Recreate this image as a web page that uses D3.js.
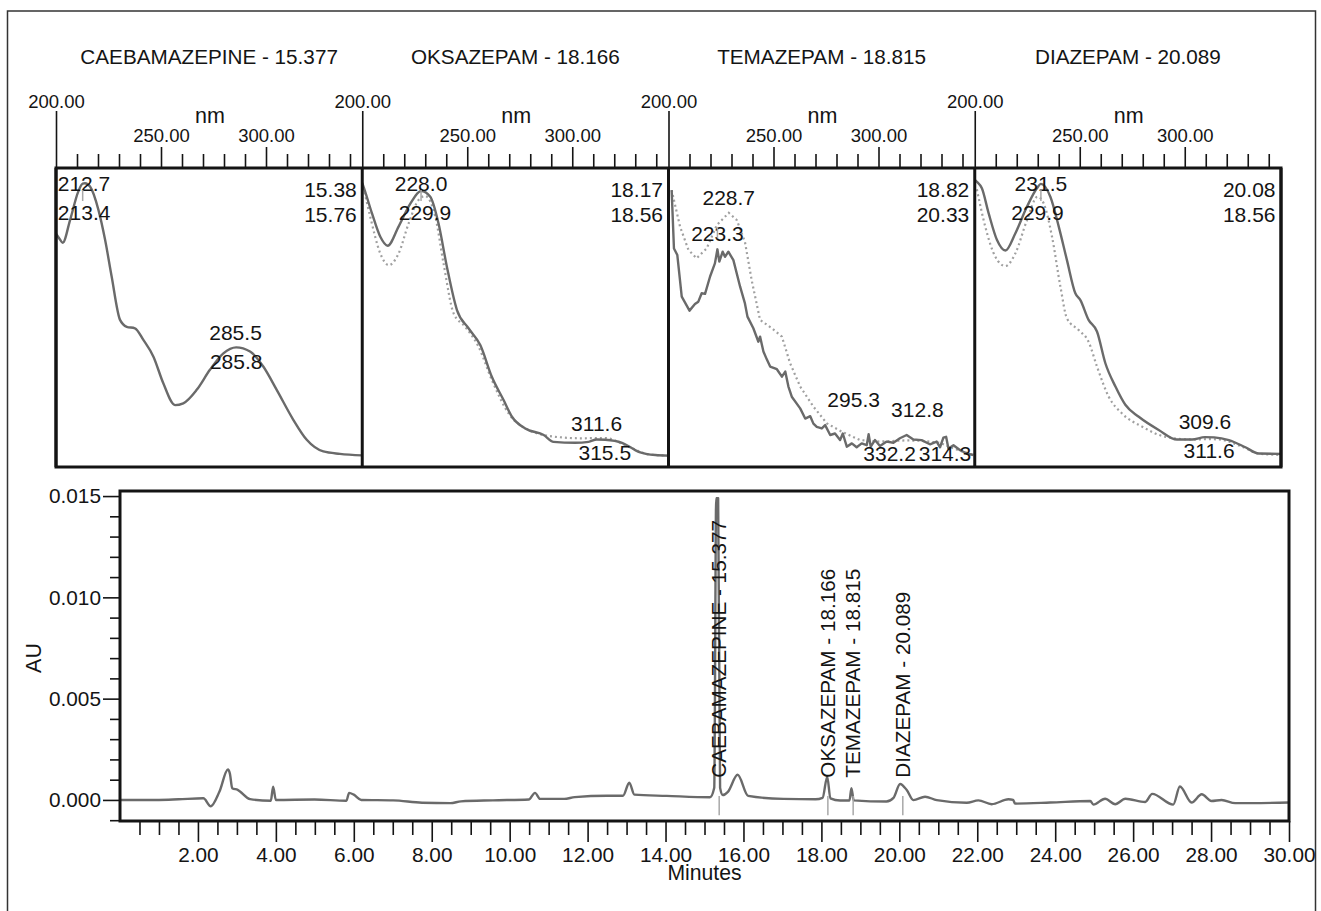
<!DOCTYPE html>
<html>
<head>
<meta charset="utf-8">
<script src="https://cdn.jsdelivr.net/npm/d3@7"></script>
<style>
  html, body { margin: 0; padding: 0; background: #fff; }
  svg { display: block; font-family: Arial, 'Liberation Sans', sans-serif; }
</style>
</head>
<body>
<div id="chart"></div>
<script>
// peaks (title + chromatogram labels)
const compounds = ['CAEBAMAZEPINE', 'OKSAZEPAM', 'TEMAZEPAM', 'DIAZEPAM'];
const retTimes = [15.377, 18.166, 18.815, 20.089];

// right corner of each spectrum box: sample rt / library rt
const cornerLabels = [['15.38', '15.76'], ['18.17', '18.56'], ['18.82', '20.33'], ['20.08', '18.56']];

// lambda max labels per spectrum, pairs of [nm, curve] ('s' solid sample, 'r' dotted library)
const lambdaMax = [
    [[[212.7, 's'], [213.4, 's']], [[285.5, 's'], [285.8, 's']]],
    [[[228.0, 's'], [229.9, 'r']], [[311.6, 's'], [315.5, 'r']]],
    [[[228.7, 'r'], [223.3, 's']], [[295.3, 's'], [332.2, 's']], [[312.8, 'r'], [314.3, 'r']]],
    [[[231.5, 's'], [229.9, 'r']], [[309.6, 's'], [311.6, 'r']]]
];

// UV spectra, [nm, relative absorbance]
const carbSample = [[200.0,0.78],[201.5,0.765],[203.2,0.75],[206.7,0.826],[210.6,0.921],[212.7,0.948],[213.8,0.949],[216.2,0.938],
    [220.2,0.86],[223.4,0.759],[226.5,0.637],[230.5,0.492],[233.7,0.469],[237.6,0.464],[241.6,0.425],[246.4,0.369],
    [251.1,0.28],[256.7,0.207],[260.6,0.213],[267.0,0.258],[273.3,0.325],[279.7,0.38],[285.8,0.4],[292.4,0.386],
    [298.7,0.336],[305.1,0.258],[313.0,0.158],[319.4,0.091],[327.3,0.052],[335.2,0.044],[345.8,0.039]];

const oksaSample = [[200.0,0.95],[200.6,0.938],[204.6,0.849],[208.6,0.77],[212.1,0.74],[217.3,0.804],[222.9,0.881],[228.0,0.923],
    [232.4,0.904],[236.3,0.815],[240.3,0.67],[245.1,0.525],[250.6,0.464],[256.2,0.408],[261.7,0.302],[267.3,0.224],
    [271.3,0.168],[277.6,0.129],[286.4,0.107],[291.1,0.084],[301.4,0.081],[307.8,0.084],[311.6,0.092],[315.7,0.091],
    [323.7,0.081],[331.6,0.051],[339.6,0.04],[345.8,0.038]];
const oksaLib = [[200.6,0.935],[203.8,0.837],[208.6,0.714],[212.6,0.675],[217.3,0.714],[222.1,0.815],[226.8,0.893],[229.9,0.906],
    [234.8,0.837],[238.7,0.681],[243.5,0.514],[249.0,0.469],[255.4,0.402],[261.7,0.291],[269.7,0.179],[279.2,0.124],
    [291.9,0.101],[304.6,0.096],[315.5,0.097],[326.8,0.068],[336.4,0.042],[345.8,0.038]];

const temaSample = [[201.5,0.926],[202.6,0.731],[204.2,0.709],[206.3,0.57],[210.0,0.523],[212.6,0.545],[214.2,0.553],[215.8,0.581],
    [217.4,0.579],[219.8,0.637],[222.1,0.681],[223.3,0.728],[224.2,0.687],[225.8,0.72],[226.9,0.703],[228.5,0.72],
    [230.9,0.692],[234.1,0.603],[236.4,0.547],[237.6,0.503],[240.4,0.464],[242.8,0.419],[243.6,0.436],[245.2,0.386],
    [246.8,0.36],[248.4,0.336],[251.6,0.327],[254.0,0.302],[255.6,0.319],[257.1,0.269],[258.7,0.235],[262.7,0.196],
    [265.1,0.162],[267.5,0.17],[269.0,0.145],[270.6,0.134],[273.0,0.129],[274.6,0.14],[277.0,0.107],[279.3,0.112],
    [281.7,0.09],[283.0,0.112],[284.9,0.068],[287.3,0.079],[289.6,0.066],[292.0,0.079],[294.4,0.073],[295.3,0.11],
    [296.3,0.068],[298.3,0.09],[300.7,0.07],[303.9,0.085],[307.1,0.081],[310.2,0.096],[313.4,0.107],[316.6,0.092],
    [320.5,0.09],[324.5,0.076],[327.7,0.085],[329.3,0.066],[330.9,0.098],[332.2,0.101],[333.3,0.062],[335.7,0.073],
    [338.9,0.056],[342.1,0.045],[345.2,0.04]];
const temaLib = [[201.5,0.926],[205.5,0.804],[209.5,0.726],[213.4,0.698],[218.2,0.731],[223.0,0.809],[228.7,0.85],[232.5,0.826],
    [236.4,0.753],[239.6,0.625],[243.6,0.492],[249.2,0.464],[254.0,0.436],[257.9,0.347],[262.7,0.269],[269.0,0.202],
    [275.4,0.146],[282.5,0.118],[291.2,0.09],[300.7,0.085],[312.8,0.089],[319.7,0.088],[329.3,0.081],[335.7,0.062],[345.2,0.04]];

const diazSample = [[200.0,0.96],[201.0,0.954],[203.4,0.932],[206.6,0.849],[210.6,0.759],[214.6,0.724],[219.3,0.781],[224.9,0.871],
    [229.6,0.932],[231.5,0.947],[236.0,0.904],[240.0,0.804],[243.9,0.692],[247.9,0.581],[250.3,0.558],[254.2,0.492],
    [258.2,0.453],[262.2,0.347],[267.0,0.269],[271.7,0.208],[278.1,0.168],[287.6,0.124],[296.3,0.092],[303.5,0.092],
    [309.6,0.1],[314.0,0.099],[321.0,0.09],[328.9,0.066],[335.2,0.045],[345.8,0.044]];
const diazLib = [[201.0,0.929],[205.0,0.804],[209.8,0.703],[214.6,0.672],[219.3,0.714],[224.9,0.826],[229.9,0.904],[232.8,0.882],
    [236.8,0.77],[240.8,0.603],[243.9,0.497],[249.5,0.458],[254.2,0.419],[258.2,0.336],[263.8,0.235],[270.1,0.179],
    [279.7,0.135],[290.8,0.101],[303.5,0.092],[311.6,0.093],[316.2,0.092],[327.3,0.068],[335.2,0.045],[345.8,0.04]];

const sampleSpectra = [carbSample, oksaSample, temaSample, diazSample];
const librarySpectra = [null, oksaLib, temaLib, diazLib];

// chromatogram, [minutes, AU]
const chromTrace = [[0.0,0.0],[1.0,0.0],[1.5,0.00003],[2.14,0.00008],[2.33,-0.00031],[2.55,0.0004],[2.77,0.0015],[2.82,0.0013],
    [2.88,0.00058],[3.02,0.0005],[3.34,0.00004],[3.87,-0.00004],[3.93,0.00065],[4.0,0.0],[4.99,0.00002],[5.81,-0.00004],
    [5.88,0.00035],[6.0,0.00026],[6.19,0.0],[7.01,-0.00002],[7.75,-0.00014],[8.48,-0.00016],[8.75,-0.00007],[9.57,-0.00002],
    [10.49,0.00002],[10.65,0.00035],[10.78,0.00005],[11.4,0.00005],[11.67,0.00014],[12.5,0.00021],[12.91,0.00021],
    [13.07,0.00085],[13.2,0.00026],[14.03,0.0002],[15.14,0.00013],[15.25,0.0006],[15.3,0.0149],[15.35,0.0149],[15.4,0.0006],
    [15.47,0.00024],[15.6,0.0004],[15.85,0.00124],[16.12,0.0002],[17.02,0.00005],[17.85,0.00003],[18.03,0.0001],
    [18.15,0.00115],[18.23,0.00008],[18.48,-0.00003],[18.72,-0.00003],[18.77,0.00058],[18.83,-0.00002],[19.67,-0.00008],
    [19.85,0.0001],[20.02,0.00079],[20.19,0.00049],[20.36,-0.00001],[20.66,0.00016],[20.96,-0.00001],[21.73,-0.00014],
    [22.03,-0.00002],[22.37,-0.00021],[22.8,0.00003],[22.92,0.0],[22.97,-0.00018],[23.87,-0.00013],[24.9,-0.00005],
    [24.98,-0.00023],[25.28,0.00006],[25.54,-0.00021],[25.8,0.00006],[26.31,-0.0001],[26.49,0.0003],[27.03,-0.00023],
    [27.2,0.00066],[27.5,-0.00013],[27.76,0.00028],[28.01,-0.00005],[28.27,0.0],[28.62,-0.00016],[30.0,-0.00013]];

window.Chart = window.Chart || {};

Chart.init = function() {
    Chart.setup.initConsts();
    Chart.setup.initSvg();
    Chart.core.drawSpectra();
    Chart.core.drawChrom();
};

Chart.setup = {
    initConsts: function() {
        Chart.width = 1321;
        Chart.height = 911;

        Chart.specLeft = 56;
        Chart.specW = 306.25; // width of one spectrum box
        Chart.specTop = 168;
        Chart.specBottom = 467;
        Chart.pxPerNm = 2.1;

        Chart.chromBox = {x0: 120, x1: 1289, y0: 491, y1: 821};

        Chart.ink = '#141414';
        Chart.trace = '#6a6a6a';
        Chart.dots = '#a0a0a0';

        // hand nudges for crowded labels in the temazepam box
        Chart.labelNudge = {'295.3': [-15, -19], '312.8': [12, -15], '332.2': [-56.5, 6], '314.3': [36.5, 0]};
    },

    initSvg: function() {
        Chart.svg = d3.select('#chart').append('svg')
            .attr('width', Chart.width)
            .attr('height', Chart.height);

        Chart.svg.append('rect')
            .attr('x', 7.5).attr('y', 11)
            .attr('width', 1308).attr('height', 930)
            .attr('fill', 'none')
            .attr('stroke', '#333').attr('stroke-width', 1.5);
    }
};

Chart.helpers = {
    interp: function(data, nm) {
        for (let i = 1; i < data.length; i++) {
            if (data[i][0] >= nm) {
                let a = data[i-1], b = data[i];
                let f = (nm - a[0]) / (b[0] - a[0]);
                return a[1] + f * (b[1] - a[1]);
            }
        }
        return data[data.length-1][1];
    }
};

Chart.core = {
    drawSpectra: function() {
        let svg = Chart.svg;
        let nmMax = 200 + Chart.specW / Chart.pxPerNm;

        svg.append('defs').selectAll('clipPath')
            .data(compounds)
            .join('clipPath')
            .attr('id', (d, i) => 'clip' + i)
            .append('rect')
            .attr('x', (d, i) => Chart.specLeft + i*Chart.specW)
            .attr('y', Chart.specTop)
            .attr('width', Chart.specW)
            .attr('height', Chart.specBottom - Chart.specTop);

        compounds.forEach(function(name, i) {
            let left = Chart.specLeft + i*Chart.specW;
            let right = left + Chart.specW;
            let xs = d3.scaleLinear().domain([200, nmMax]).range([left, right]);
            let ys = d3.scaleLinear().domain([0, 1]).range([Chart.specBottom, Chart.specTop]);
            let g = svg.append('g');

            // title
            g.append('text')
                .attr('x', (left + right) / 2).attr('y', 64)
                .attr('text-anchor', 'middle')
                .attr('font-size', '20.7px').attr('fill', Chart.ink)
                .text(name + ' - ' + retTimes[i].toFixed(3));

            // nm axis
            let minor = d3.range(210, nmMax, 10).filter(v => v % 50 !== 0);
            let axes = [
                {vals: minor, size: 14, fmt: ''},
                {vals: [250, 300], size: 21, pad: 5},
                {vals: [200], size: 57, pad: 3}
            ];
            axes.forEach(function(a) {
                let ax = g.append('g')
                    .attr('transform', 'translate(0,' + Chart.specTop + ')')
                    .call(d3.axisTop(xs).tickValues(a.vals).tickSize(a.size)
                        .tickPadding(a.pad || 3)
                        .tickFormat(a.fmt === '' ? () => '' : d3.format('.2f')));
                ax.select('.domain').remove();
                ax.selectAll('line').attr('stroke', Chart.ink).attr('stroke-width', 1.6);
                ax.selectAll('text').attr('font-size', '18.5px').attr('fill', Chart.ink)
                    .attr('font-family', null);
            });

            g.append('text')
                .attr('x', left + 154).attr('y', 123)
                .attr('text-anchor', 'middle')
                .attr('font-size', '21.5px').attr('fill', Chart.ink)
                .text('nm');

            // spectra
            let line = d3.line().x(d => xs(d[0])).y(d => ys(d[1]))
                .curve(i === 2 ? d3.curveLinear : d3.curveMonotoneX);
            let plot = g.append('g').attr('clip-path', 'url(#clip' + i + ')');
            if (librarySpectra[i]) {
                plot.append('path')
                    .attr('d', line(librarySpectra[i]))
                    .attr('fill', 'none')
                    .attr('stroke', Chart.dots)
                    .attr('stroke-width', 2.2)
                    .attr('stroke-dasharray', '2,3');
            }
            plot.append('path')
                .attr('d', line(sampleSpectra[i]))
                .attr('fill', 'none')
                .attr('stroke', Chart.trace)
                .attr('stroke-width', 2.4)
                .attr('stroke-linejoin', 'round');

            // lambda max labels
            lambdaMax[i].forEach(function(pair, k) {
                let yPrev = null;
                pair.forEach(function(lab, row) {
                    let data = lab[1] === 'r' && librarySpectra[i] ? librarySpectra[i] : sampleSpectra[i];
                    let apex = ys(Chart.helpers.interp(data, lab[0]));
                    let y = row === 0 ? Math.max(apex - 8, 191) : Math.max(apex - 8, yPrev + 29);
                    yPrev = y;
                    let txt = lab[0].toFixed(1);
                    let x = xs(lab[0]);
                    x = Math.max(x, left + 28);
                    let dy = 0;
                    if (Chart.labelNudge[txt] && i === 2 && k > 0) {
                        x += Chart.labelNudge[txt][0];
                        dy = Chart.labelNudge[txt][1];
                    }
                    g.append('text')
                        .attr('x', x).attr('y', y + dy)
                        .attr('text-anchor', 'middle')
                        .attr('font-size', '21px').attr('fill', Chart.ink)
                        .text(txt);

                    // apex marker under the sample's first peak label
                    if (k === 0 && lab[1] === 's' && (row === 0 || i === 2)) {
                        let y0 = row === 0 ? y - 1 : y - 14;
                        g.append('line')
                            .attr('x1', xs(lab[0])).attr('x2', xs(lab[0]))
                            .attr('y1', y0).attr('y2', y0 + 11)
                            .attr('stroke', '#a8a8a8').attr('stroke-width', 1.5);
                    }
                });
            });

            // corner labels
            cornerLabels[i].forEach(function(t, row) {
                g.append('text')
                    .attr('x', right - 5.5).attr('y', 197 + row*25)
                    .attr('text-anchor', 'end')
                    .attr('font-size', '21px').attr('fill', Chart.ink)
                    .text(t);
            });
        });

        // box: top axis line, separators, bottom
        let xs0 = d3.scaleLinear().domain([0, 4]).range([Chart.specLeft, Chart.specLeft + 4*Chart.specW]);
        svg.append('g').selectAll('line.sep')
            .data(d3.range(0, 5))
            .join('line')
            .attr('x1', d => xs0(d)).attr('x2', d => xs0(d))
            .attr('y1', Chart.specTop).attr('y2', Chart.specBottom)
            .attr('stroke', Chart.ink).attr('stroke-width', 3);
        svg.append('rect')
            .attr('x', xs0(0)).attr('y', Chart.specTop)
            .attr('width', xs0(4) - xs0(0)).attr('height', Chart.specBottom - Chart.specTop)
            .attr('fill', 'none')
            .attr('stroke', Chart.ink).attr('stroke-width', 3);
    },

    drawChrom: function() {
        let svg = Chart.svg;
        let b = Chart.chromBox;
        let xc = d3.scaleLinear().domain([0, 30]).range([b.x0, b.x1]);
        let yc = d3.scaleLinear().domain([-0.00104, 0.01525]).range([b.y1, b.y0]);
        let g = svg.append('g');

        // y axis
        let yMinor = d3.range(-1, 16).filter(v => v % 5 !== 0).map(v => v / 1000);
        let yMajor = [0, 0.005, 0.010, 0.015];
        let ya1 = g.append('g').attr('transform', 'translate(' + b.x0 + ',0)')
            .call(d3.axisLeft(yc).tickValues(yMinor).tickSize(10).tickFormat(() => ''));
        let ya2 = g.append('g').attr('transform', 'translate(' + b.x0 + ',0)')
            .call(d3.axisLeft(yc).tickValues(yMajor).tickSize(17).tickPadding(2).tickFormat(d3.format('.3f')));

        // x axis
        let xMajor = d3.range(2, 31, 2);
        let xMinor = d3.range(1, 60).map(v => v / 2).filter(v => v % 2 !== 0);
        let xa1 = g.append('g').attr('transform', 'translate(0,' + b.y1 + ')')
            .call(d3.axisBottom(xc).tickValues(xMinor).tickSize(14).tickFormat(() => ''));
        let xa2 = g.append('g').attr('transform', 'translate(0,' + b.y1 + ')')
            .call(d3.axisBottom(xc).tickValues(xMajor).tickSize(21).tickPadding(5).tickFormat(d3.format('.2f')));

        [ya1, ya2, xa1, xa2].forEach(function(ax) {
            ax.select('.domain').remove();
            ax.selectAll('line').attr('stroke', Chart.ink).attr('stroke-width', 1.6);
            ax.selectAll('text').attr('font-size', '20.8px').attr('fill', Chart.ink)
                .attr('font-family', null);
        });

        g.append('text')
            .attr('transform', 'translate(33,658) rotate(-90)')
            .attr('text-anchor', 'middle')
            .attr('dy', '0.35em')
            .attr('font-size', '21.5px').attr('fill', Chart.ink)
            .text('AU');

        g.append('text')
            .attr('x', xc(15)).attr('y', 880)
            .attr('text-anchor', 'middle')
            .attr('font-size', '21.2px').attr('fill', Chart.ink)
            .text('Minutes');

        // trace
        let line = d3.line().x(d => xc(d[0])).y(d => yc(d[1])).curve(d3.curveMonotoneX);
        g.append('path')
            .attr('d', line(chromTrace))
            .attr('fill', 'none')
            .attr('stroke', Chart.trace)
            .attr('stroke-width', 2.4)
            .attr('stroke-linejoin', 'round');

        // retention time markers + labels
        g.selectAll('line.rt')
            .data(retTimes)
            .join('line')
            .attr('x1', d => xc(d)).attr('x2', d => xc(d))
            .attr('y1', yc(0.0002)).attr('y2', yc(-0.00075))
            .attr('stroke', '#a8a8a8').attr('stroke-width', 1.5);

        g.selectAll('text.rt')
            .data(retTimes)
            .join('text')
            .attr('transform', d => 'translate(' + xc(d) + ',' + yc(0.0011) + ') rotate(-90)')
            .attr('dy', '0.35em')
            .attr('font-size', '20.7px').attr('fill', Chart.ink)
            .text((d, i) => compounds[i] + ' - ' + d.toFixed(3));

        // box
        g.append('rect')
            .attr('x', b.x0).attr('y', b.y0)
            .attr('width', b.x1 - b.x0).attr('height', b.y1 - b.y0)
            .attr('fill', 'none')
            .attr('stroke', Chart.ink).attr('stroke-width', 3);
    }
};

document.addEventListener('DOMContentLoaded', Chart.init);
</script>
</body>
</html>
